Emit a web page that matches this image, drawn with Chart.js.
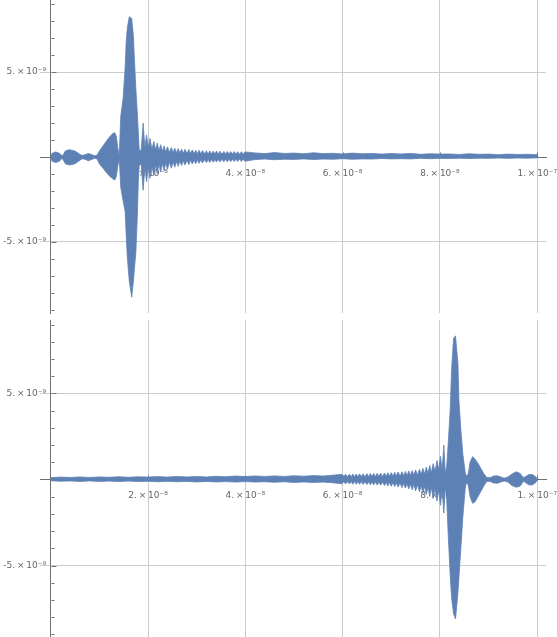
<!DOCTYPE html>
<html>
<head>
<meta charset="utf-8">
<script src="https://cdn.jsdelivr.net/npm/chart.js@4.4.1/dist/chart.umd.min.js"></script>
<style>
body{margin:0;background:#fff;}
canvas{display:block;}
</style>
</head>
<body>
<canvas id="topPanel" width="557" height="317"></canvas>
<canvas id="bottomPanel" width="557" height="320"></canvas>
<script>
// time in units of 1e-8, signal envelope in units of 1e-9
var timeTop = [
    0, 0.03, 0.10, 0.18, 0.23, 0.26, 0.30, 0.38, 0.50, 0.62, 0.66, 0.72, 0.77, 0.84, 0.90, 0.95, 1.00, 1.10, 1.20, 1.28, 1.32, 1.35, 1.38, 1.41,
    1.44, 1.49, 1.53, 1.55, 1.575, 1.615, 1.665, 1.70, 1.72, 1.75, 1.78, 1.80, 1.82, 1.86,
    1.90, 1.935, 1.97, 2.005, 2.04, 2.08, 2.12, 2.155, 2.19, 2.225, 2.26, 2.295, 2.33, 2.365, 2.40, 2.44, 2.48, 2.515, 2.55, 2.585,
    2.62, 2.655, 2.69, 2.725, 2.76, 2.80, 2.84, 2.875, 2.91, 2.945, 2.98, 3.015, 3.05, 3.085, 3.12, 3.16, 3.20, 3.235, 3.27, 3.305,
    3.34, 3.375, 3.41, 3.445, 3.48, 3.52, 3.56, 3.595, 3.63, 3.665, 3.70, 3.735, 3.77, 3.805, 3.84, 3.88, 3.92, 3.955, 3.99,
    4.2, 4.4, 4.6, 4.8, 5.0, 5.2, 5.4, 5.6, 5.8, 6.0, 6.2, 6.4, 6.6, 6.8, 7.0, 7.2, 7.4, 7.6, 7.8, 8.0, 8.2, 8.4, 8.6, 8.8, 9.0, 9.2, 9.4, 9.6, 9.8, 10.0
];
var upperTop = [
    0.05, 0.22, 0.30, 0.22, 0.08, 0.15, 0.35, 0.43, 0.35, 0.12, 0.10, 0.15, 0.20, 0.15, 0.08, 0.10, 0.35, 0.75, 1.15, 1.40, 1.42, 1.20, 0.50, 0.15,
    2.4, 3.5, 5.3, 6.7, 7.6, 8.25, 8.15, 7.1, 5.8, 4.0, 2.6, 1.5, 0.40, 0.40,
    2.00, 0.55, 1.30, 0.55, 1.10, 0.46, 0.92, 0.40, 0.82, 0.36, 0.72, 0.32, 0.65, 0.29, 0.60, 0.27, 0.56, 0.25, 0.52, 0.24,
    0.50, 0.23, 0.47, 0.22, 0.45, 0.21, 0.44, 0.20, 0.42, 0.19, 0.40, 0.19, 0.40, 0.18, 0.38, 0.18, 0.37, 0.17, 0.36, 0.17,
    0.35, 0.17, 0.35, 0.16, 0.34, 0.16, 0.33, 0.16, 0.33, 0.16, 0.32, 0.16, 0.32, 0.16, 0.31, 0.16, 0.31, 0.16, 0.30,
    0.24, 0.20, 0.26, 0.21, 0.23, 0.19, 0.25, 0.20, 0.22, 0.18, 0.23, 0.19, 0.21, 0.17, 0.20, 0.18, 0.21, 0.16, 0.19, 0.17, 0.18, 0.15, 0.19, 0.16, 0.17, 0.14, 0.17, 0.15, 0.16, 0.13
];
var lowerTop = [
    -0.05, -0.25, -0.32, -0.25, -0.08, -0.18, -0.40, -0.47, -0.40, -0.15, -0.10, -0.15, -0.22, -0.15, -0.08, -0.10, -0.40, -0.75, -1.10, -1.30, -1.35, -1.15, -0.50, -0.15,
    -1.8, -2.6, -3.2, -4.5, -5.9, -7.3, -8.25, -7.3, -6.6, -5.6, -3.5, -1.5, -0.45, -0.45,
    -1.95, -0.60, -1.45, -0.60, -1.25, -0.52, -1.10, -0.46, -0.98, -0.42, -0.88, -0.38, -0.80, -0.34, -0.72, -0.31, -0.66, -0.28, -0.60, -0.26,
    -0.55, -0.24, -0.50, -0.22, -0.47, -0.20, -0.44, -0.19, -0.41, -0.18, -0.39, -0.17, -0.37, -0.16, -0.35, -0.15, -0.33, -0.15, -0.32, -0.14,
    -0.31, -0.14, -0.30, -0.13, -0.29, -0.13, -0.28, -0.12, -0.28, -0.12, -0.27, -0.12, -0.27, -0.12, -0.26, -0.11, -0.26, -0.11, -0.25,
    -0.15, -0.12, -0.16, -0.13, -0.14, -0.11, -0.15, -0.12, -0.13, -0.10, -0.13, -0.11, -0.12, -0.09, -0.11, -0.10, -0.11, -0.08, -0.10, -0.08, -0.09, -0.07, -0.09, -0.07, -0.08, -0.06, -0.08, -0.06, -0.07, -0.05
];

var timeBottom = [
    0, 0.2, 0.4, 0.6, 0.8, 1.0, 1.2, 1.4, 1.6, 1.8, 2.0, 2.2, 2.4, 2.6, 2.8, 3.0, 3.2, 3.4, 3.6, 3.8, 4.0, 4.2, 4.4, 4.6, 4.8, 5.0, 5.2, 5.4, 5.6, 5.8,
    5.99, 6.025, 6.06, 6.10, 6.14, 6.175, 6.21, 6.245, 6.28, 6.315, 6.35, 6.385, 6.42, 6.46, 6.50, 6.535, 6.57, 6.605, 6.64, 6.675,
    6.71, 6.745, 6.78, 6.82, 6.86, 6.895, 6.93, 6.965, 7.00, 7.035, 7.07, 7.105, 7.14, 7.18, 7.22, 7.255, 7.29, 7.325, 7.36, 7.395,
    7.43, 7.465, 7.50, 7.54, 7.58, 7.615, 7.65, 7.685, 7.72, 7.755, 7.79, 7.825, 7.86, 7.90, 7.94, 7.975, 8.01, 8.045, 8.08,
    8.11, 8.14, 8.17, 8.21, 8.24, 8.28, 8.32, 8.37, 8.39, 8.43, 8.47, 8.52, 8.54,
    8.58, 8.62, 8.67, 8.72, 8.78, 8.84, 8.90, 8.96,
    9.03, 9.10, 9.18, 9.25, 9.32, 9.40, 9.48, 9.57, 9.65, 9.71, 9.75, 9.82, 9.89, 9.95, 10.0
];
var upperBottom = [
    0.11, 0.14, 0.12, 0.15, 0.12, 0.15, 0.13, 0.16, 0.13, 0.16, 0.14, 0.17, 0.14, 0.18, 0.15, 0.18, 0.15, 0.19, 0.16, 0.20, 0.17, 0.21, 0.18, 0.21, 0.18, 0.22, 0.19, 0.23, 0.20, 0.25,
    0.30, 0.16, 0.31, 0.16, 0.31, 0.16, 0.32, 0.16, 0.32, 0.16, 0.33, 0.16, 0.33, 0.16, 0.34, 0.16, 0.35, 0.17, 0.35, 0.17,
    0.36, 0.17, 0.37, 0.18, 0.38, 0.18, 0.40, 0.19, 0.40, 0.19, 0.42, 0.20, 0.44, 0.21, 0.45, 0.22, 0.47, 0.23, 0.50, 0.24,
    0.52, 0.25, 0.56, 0.27, 0.60, 0.29, 0.65, 0.32, 0.72, 0.36, 0.82, 0.40, 0.92, 0.46, 1.10, 0.55, 1.35, 0.55, 2.00,
    0.35, 0.8, 2.1, 4.0, 6.4, 8.2, 8.35, 6.75, 4.6, 2.9, 1.5, 0.4, 0.2,
    0.3, 1.0, 1.33, 1.2, 0.95, 0.65, 0.35, 0.12,
    0.10, 0.20, 0.22, 0.15, 0.08, 0.15, 0.32, 0.45, 0.35, 0.12, 0.15, 0.28, 0.30, 0.20, 0.05
];
var lowerBottom = [
    -0.07, -0.10, -0.08, -0.11, -0.08, -0.11, -0.09, -0.12, -0.09, -0.12, -0.10, -0.13, -0.10, -0.13, -0.11, -0.14, -0.11, -0.14, -0.12, -0.15, -0.12, -0.15, -0.13, -0.16, -0.13, -0.17, -0.14, -0.17, -0.15, -0.19,
    -0.25, -0.11, -0.26, -0.11, -0.26, -0.12, -0.27, -0.12, -0.27, -0.12, -0.28, -0.12, -0.28, -0.13, -0.29, -0.13, -0.30, -0.14, -0.31, -0.14,
    -0.32, -0.15, -0.33, -0.15, -0.35, -0.16, -0.37, -0.17, -0.39, -0.18, -0.41, -0.19, -0.44, -0.20, -0.47, -0.22, -0.50, -0.24, -0.55, -0.26,
    -0.60, -0.28, -0.66, -0.31, -0.72, -0.34, -0.80, -0.38, -0.88, -0.42, -0.98, -0.46, -1.10, -0.52, -1.25, -0.60, -1.50, -0.60, -1.95,
    -0.40, -1.2, -3.2, -5.5, -6.9, -7.8, -8.1, -6.6, -5.7, -4.0, -2.2, -0.5, -0.2,
    -0.3, -1.0, -1.38, -1.3, -1.0, -0.7, -0.38, -0.12,
    -0.10, -0.20, -0.22, -0.15, -0.08, -0.15, -0.35, -0.45, -0.38, -0.12, -0.15, -0.30, -0.32, -0.22, -0.05
];

var xTickValues = [2, 4, 6, 8, 10];
var yTickValues = [-5, 5];

var blue = '#5e81b5';
var gridColor = '#cccccc';
var axisColor = '#707070';
var labelColor = '#666666';
var labelFont = {family: "'DejaVu Sans', sans-serif", size: 9};

window.addEventListener('DOMContentLoaded', init, false);

function init(){
    makeChart('topPanel', timeTop, upperTop, lowerTop, -9.18, 9.24, {left: 40, right: 11, top: 0, bottom: 4});
    makeChart('bottomPanel', timeBottom, upperBottom, lowerBottom, -9.15, 9.27, {left: 40, right: 11, top: 3, bottom: 0});
}

function toPoints(t, v){
    var pts = [];
    for (var i = 0; i < t.length; i++){
        pts.push({x: t[i], y: v[i]});
    }
    return pts;
}

function xLabel(v){
    if (v == 10) return '1.\u2009\u00d7\u200910\u207b\u2077';
    return v + '.\u2009\u00d7\u200910\u207b\u2078';
}
function yLabel(v){
    // trailing spaces keep the label off the axis line
    return (v < 0 ? '-' : '') + Math.abs(v) + '.\u2009\u00d7\u200910\u207b\u2079 \u2009';
}

// small Mathematica-style tick marks pointing into the plot
var axisTicks = {
    id: 'axisTicks',
    beforeDatasetsDraw: function(chart){
        var ctx = chart.ctx;
        var xs = chart.scales.x, ys = chart.scales.y;
        var x0 = Math.round(xs.getPixelForValue(0)) + 0.5;
        var y0 = Math.round(ys.getPixelForValue(0)) + 0.5;
        ctx.save();
        ctx.strokeStyle = axisColor;
        ctx.lineWidth = 1;
        ctx.beginPath();
        for (var v = -9; v <= 9; v++){
            if (v == 0) continue;
            var len = (v % 5 == 0) ? 5 : 3;
            var py = Math.round(ys.getPixelForValue(v)) + 0.5;
            ctx.moveTo(x0, py);
            ctx.lineTo(x0 + len, py);
        }
        for (var k = 1; k <= 20; k++){
            var t = k * 0.5;
            var l = (k % 4 == 0) ? 5 : 3;
            var px = Math.round(xs.getPixelForValue(t)) + 0.5;
            ctx.moveTo(px, y0);
            ctx.lineTo(px, y0 - l);
        }
        ctx.stroke();
        ctx.restore();
    }
};

function makeChart(id, t, hi, lo, yMin, yMax, pad){
    return new Chart(document.getElementById(id), {
        type: 'line',
        data: {
            datasets: [{
                label: 'upper',
                data: toPoints(t, hi),
                borderColor: blue,
                backgroundColor: blue,
                borderWidth: 0.8,
                pointRadius: 0,
                tension: 0,
                fill: '+1'
            },
            {
                label: 'lower',
                data: toPoints(t, lo),
                borderColor: blue,
                backgroundColor: blue,
                borderWidth: 0.8,
                pointRadius: 0,
                tension: 0,
                fill: false
            }]
        },
        options: {
            responsive: false,
            animation: false,
            layout: {padding: pad},
            plugins: {legend: {display: false}, tooltip: {enabled: false}},
            scales: {
                x: {
                    type: 'linear',
                    min: -0.22,
                    max: 10.18,
                    position: {y: 0},
                    afterBuildTicks: function(s){
                        s.ticks = xTickValues.map(function(v){ return {value: v}; });
                    },
                    afterFit: function(s){
                        s.height = 0;
                        s.paddingLeft = 0;
                        s.paddingRight = 0;
                    },
                    grid: {color: gridColor, drawTicks: false},
                    border: {color: axisColor},
                    ticks: {
                        padding: 11,
                        color: labelColor,
                        font: labelFont,
                        maxRotation: 0,
                        autoSkip: false,
                        callback: function(v){ return xLabel(v); }
                    }
                },
                y: {
                    type: 'linear',
                    min: yMin,
                    max: yMax,
                    position: {x: 0},
                    afterBuildTicks: function(s){
                        s.ticks = yTickValues.map(function(v){ return {value: v}; });
                    },
                    afterFit: function(s){
                        s.width = 0;
                        s.paddingTop = 0;
                        s.paddingBottom = 0;
                    },
                    grid: {color: gridColor, drawTicks: false},
                    border: {color: axisColor},
                    ticks: {
                        padding: 5,
                        color: labelColor,
                        font: labelFont,
                        autoSkip: false,
                        callback: function(v){ return yLabel(v); }
                    }
                }
            }
        },
        plugins: [axisTicks]
    });
}
</script>
</body>
</html>
